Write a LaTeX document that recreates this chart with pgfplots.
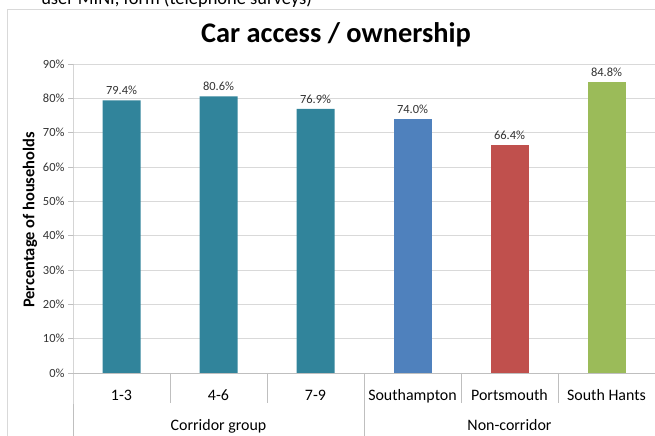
\documentclass[border=0pt]{standalone}
\usepackage{fontspec}
\setmainfont{Carlito}
\usepackage{pgfplots}
\pgfplotsset{compat=1.18}

\definecolor{barteal}{HTML}{31849B}
\definecolor{barblue}{HTML}{4F81BD}
\definecolor{barred}{HTML}{C0504D}
\definecolor{bargreen}{HTML}{9BBB59}
\definecolor{linegray}{HTML}{BFBFBF}
\definecolor{gridgray}{HTML}{D9D9D9}

\begin{document}
\begin{tikzpicture}[x=1bp,y=1bp]
    \useasboundingbox (0,0) rectangle (655,436);
    % line of page text above the chart, cut off at the top
    \begin{scope}
        \clip (0,0) rectangle (655,436);
        \node[font=\fontsize{18.5}{20}\selectfont, anchor=base east, inner sep=0pt] at (312,431) {user MINI, form (telephone surveys)};
    \end{scope}
    % chart frame
    \draw[gridgray, line width=0.8bp] (7,0) -- (7,427) -- (660,427);
    \node[font=\bfseries\fontsize{28.5}{30}\selectfont, anchor=base] at (336,393) {Car access / ownership};
    \node[font=\bfseries\fontsize{16.5}{18}\selectfont, rotate=90] at (30,216) {Percentage of households};

    \begin{axis}[
        at={(73bp,63bp)},
        anchor=south west,
        scale only axis,
        width=582bp,
        height=309bp,
        xmin=-0.5, xmax=5.5,
        ymin=0, ymax=90,
        ybar,
        bar width=38bp,
        clip=false,
        axis line style={draw=none},
        ymajorgrids=true,
        grid style={gridgray, line width=0.8bp},
        ytick={0,10,...,90},
        yticklabels={0\%,10\%,20\%,30\%,40\%,50\%,60\%,70\%,80\%,90\%},
        ytick pos=left,
        tick align=outside,
        major tick length=5bp,
        ytick style={linegray, line width=0.8bp},
        xtick style={draw=none},
        xtick={0,...,5},
        xticklabels={1-3,4-6,7-9,Southampton,Portsmouth,South Hants},
        xticklabel style={font=\fontsize{16}{18}\selectfont, anchor=base, yshift=-23bp},
        yticklabel style={font=\fontsize{12.5}{14}\selectfont, text=black!80},
        /pgf/number format/assume math mode=true,
        nodes near coords={\pgfmathprintnumber[fixed,fixed zerofill,precision=1]{\pgfplotspointmeta}\%},
        every node near coord/.append style={font=\fontsize{12.5}{14}\selectfont, text=black!80, yshift=2bp},
    ]
        \addplot[fill=barteal, draw=none, bar shift=0pt] coordinates {
            (0, 79.4)
            (1, 80.6)
            (2, 76.9)
        };
        \addplot[fill=barblue, draw=none, bar shift=0pt] coordinates {(3, 74.0)};
        \addplot[fill=barred, draw=none, bar shift=0pt] coordinates {(4, 66.4)};
        \addplot[fill=bargreen, draw=none, bar shift=0pt] coordinates {(5, 84.8)};

        % axis lines and category separators
        \draw[linegray, line width=0.8bp] (axis cs:-0.5,0) -- (axis cs:5.5,0);
        \draw[linegray, line width=0.8bp] (axis cs:-0.5,90) -- (axis cs:-0.5,0) -- ++(0pt,-63bp);
        \draw[linegray, line width=0.8bp] (axis cs:2.5,0) -- ++(0pt,-63bp);
        \draw[linegray, line width=0.8bp] (axis cs:0.5,0) -- ++(0pt,-30bp);
        \draw[linegray, line width=0.8bp] (axis cs:1.5,0) -- ++(0pt,-30bp);
        \draw[linegray, line width=0.8bp] (axis cs:3.5,0) -- ++(0pt,-30bp);
        \draw[linegray, line width=0.8bp] (axis cs:4.5,0) -- ++(0pt,-30bp);
        \node[font=\fontsize{16}{18}\selectfont, anchor=base, yshift=-58bp] at (axis cs:1,0) {Corridor group};
        \node[font=\fontsize{16}{18}\selectfont, anchor=base, yshift=-58bp] at (axis cs:4,0) {Non-corridor};
    \end{axis}
\end{tikzpicture}
\end{document}
